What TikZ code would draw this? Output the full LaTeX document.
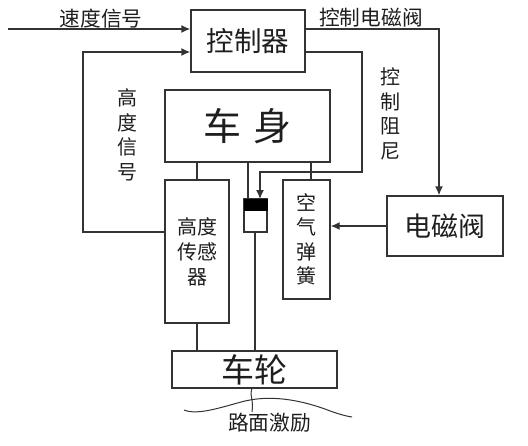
\documentclass[tikz,border=0pt]{standalone}
\usepackage{fontspec}
\setmainfont{Noto Sans CJK SC}[Scale=1]
\usetikzlibrary{arrows.meta,calc}
\definecolor{ln}{HTML}{333333}
\definecolor{tx}{HTML}{1E1E1E}
\lineskiplimit=-100pt
\tikzset{
  box/.style={draw=ln,line width=1.4pt,fill=white,inner sep=0pt,text=tx,align=center},
  conn/.style={draw=ln,line width=1.4pt},
  arr/.style={conn,-{Latex[length=9pt,width=8pt]}},
  lab/.style={text=tx,inner sep=0pt,align=center},
  small/.style={lab,font=\fontsize{20.7}{20.7}\selectfont},
  vsmall/.style={lab,font=\fontsize{20}{24.5}\selectfont},
}
\begin{document}
\begin{tikzpicture}[x=1pt,y=-1pt]
\useasboundingbox (0,0) rectangle (528,445);
\node[box,minimum width=114pt,minimum height=62pt,font=\fontsize{27.5}{27.5}\selectfont] (ctrl) at (248,41) {控制器};
\node[box,minimum width=165pt,minimum height=72pt,font=\fontsize{38}{38}\selectfont] (body) at (247.5,126) {车\hspace{13pt}身};
\node[box,minimum width=64pt,minimum height=143pt,font=\fontsize{20}{25}\selectfont] (sensor) at (197,251.5) {高度\\传感\\器};
\node[box,minimum width=47pt,minimum height=119pt,font=\fontsize{20}{24.5}\selectfont] (spring) at (306.5,239.5) {空\\气\\弹\\簧};
\node[box,minimum width=116pt,minimum height=60pt,font=\fontsize{27}{27}\selectfont] (valve) at (445,226) {电磁阀};
\node[box,minimum width=165pt,minimum height=37pt,font=\fontsize{33}{33}\selectfont] (wheel) at (254.5,369.5) {车轮};
\node[draw=ln,line width=1.2pt,fill=white,minimum width=23pt,minimum height=33pt,inner sep=0pt] (damper) at (255.5,215.5) {};
\node[fill=black,minimum width=24pt,minimum height=12pt,inner sep=0pt] (piston) at (255.5,205) {};
% free ends
\coordinate (speedin) at (8,29);
\coordinate (hcorner) at (83,232);
\coordinate (dcorner) at (362,172);
\coordinate (vcorner) at (439,29);
\coordinate (rodx) at (255,300);
% connectors
\draw[arr] (speedin) -- (speedin -| ctrl.west);
\draw[arr] (sensor.west |- hcorner) -- (hcorner) -- (83,52) -- (ctrl.west |- 0,52);
\draw[arr] (ctrl.east |- vcorner) -- (vcorner) -- (vcorner |- valve.north);
\draw[arr] (ctrl.east |- 0,52) -- (dcorner |- 0,52) -- (dcorner) -- (260,172) -- (260,199);
\draw[arr] (valve.west) -- (spring.east |- valve.west);
\draw[conn] (sensor.north) -- (sensor.north |- body.south);
\draw[conn] (311,180) -- (311,162);
\draw[conn] (248,162) -- (248,199);
\draw[conn] (rodx |- damper.south) -- (rodx |- wheel.north);
\draw[conn] (sensor.south) -- (sensor.south |- wheel.north);
% road
\coordinate (wiggle) at (252,388);
\draw[draw=ln,line width=1pt] (wiggle) .. controls (249,394) and (254,400) .. (252,412);
\draw[draw=ln,line width=1pt] (184,410) .. controls (198,416) and (225,406) .. (245,401) .. controls (275,394) and (305,402) .. (325,409) .. controls (335,413) and (345,416) .. (352,417);
% labels
\node[small] (l1) at (101,19) {速度信号};
\node[small] (l2) at (371,18) {控制电磁阀};
\node[small] (l3) at (269.5,423) {路面激励};
\node[vsmall,text width=22pt] (l4) at (127.5,135) {高\\度\\信\\号};
\node[vsmall,text width=22pt] (l5) at (390,114) {控\\制\\阻\\尼};
\end{tikzpicture}
\end{document}
